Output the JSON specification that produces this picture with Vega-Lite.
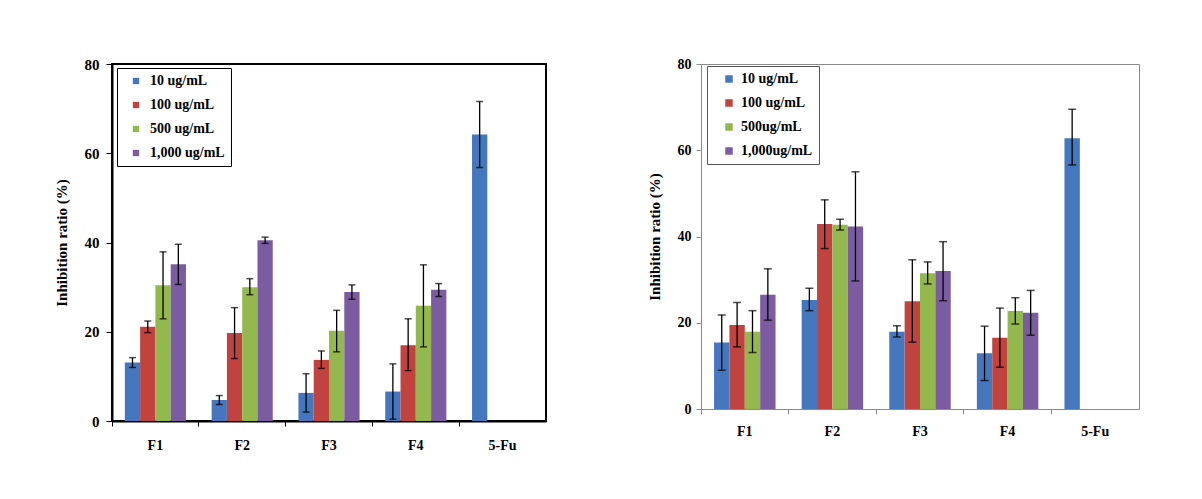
{
  "$schema": "https://vega.github.io/schema/vega-lite/v6.json",
  "background": "white",
  "padding": {"left": 53, "top": 56, "right": 0, "bottom": 0},
  "spacing": 99,
  "datasets": {
    "left": [
      {"group": "F1", "conc": "10 ug/mL", "value": 13.1, "lo": 12.0, "hi": 14.2},
      {"group": "F1", "conc": "100 ug/mL", "value": 21.1, "lo": 19.8, "hi": 22.4},
      {"group": "F1", "conc": "500 ug/mL", "value": 30.4, "lo": 22.9, "hi": 37.9},
      {"group": "F1", "conc": "1,000 ug/mL", "value": 35.1, "lo": 30.6, "hi": 39.6},
      {"group": "F2", "conc": "10 ug/mL", "value": 4.7, "lo": 3.7, "hi": 5.7},
      {"group": "F2", "conc": "100 ug/mL", "value": 19.7, "lo": 14.0, "hi": 25.4},
      {"group": "F2", "conc": "500 ug/mL", "value": 30.0, "lo": 28.3, "hi": 31.9},
      {"group": "F2", "conc": "1,000 ug/mL", "value": 40.5, "lo": 39.8, "hi": 41.2},
      {"group": "F3", "conc": "10 ug/mL", "value": 6.3, "lo": 2.0, "hi": 10.6},
      {"group": "F3", "conc": "100 ug/mL", "value": 13.7, "lo": 11.8, "hi": 15.7},
      {"group": "F3", "conc": "500 ug/mL", "value": 20.2, "lo": 15.5, "hi": 24.8},
      {"group": "F3", "conc": "1,000 ug/mL", "value": 28.9, "lo": 27.3, "hi": 30.5},
      {"group": "F4", "conc": "10 ug/mL", "value": 6.6, "lo": 0.4, "hi": 12.8},
      {"group": "F4", "conc": "100 ug/mL", "value": 17.0, "lo": 11.3, "hi": 22.9},
      {"group": "F4", "conc": "500 ug/mL", "value": 25.8, "lo": 16.6, "hi": 35.0},
      {"group": "F4", "conc": "1,000 ug/mL", "value": 29.4, "lo": 27.9, "hi": 30.8},
      {"group": "5-Fu", "conc": "10 ug/mL", "value": 64.2, "lo": 56.8, "hi": 71.6}
    ],
    "right": [
      {"group": "F1", "conc": "10 ug/mL", "value": 15.4, "lo": 9.0, "hi": 21.8},
      {"group": "F1", "conc": "100 ug/mL", "value": 19.5, "lo": 14.4, "hi": 24.7},
      {"group": "F1", "conc": "500ug/mL", "value": 17.9, "lo": 13.1, "hi": 22.8},
      {"group": "F1", "conc": "1,000ug/mL", "value": 26.5, "lo": 20.6, "hi": 32.5},
      {"group": "F2", "conc": "10 ug/mL", "value": 25.3, "lo": 22.8, "hi": 28.0},
      {"group": "F2", "conc": "100 ug/mL", "value": 42.9, "lo": 37.2, "hi": 48.5},
      {"group": "F2", "conc": "500ug/mL", "value": 42.7, "lo": 41.5, "hi": 44.0},
      {"group": "F2", "conc": "1,000ug/mL", "value": 42.3, "lo": 29.7, "hi": 55.0},
      {"group": "F3", "conc": "10 ug/mL", "value": 17.9, "lo": 16.7, "hi": 19.3},
      {"group": "F3", "conc": "100 ug/mL", "value": 25.0, "lo": 15.5, "hi": 34.6},
      {"group": "F3", "conc": "500ug/mL", "value": 31.5, "lo": 29.0, "hi": 34.1},
      {"group": "F3", "conc": "1,000ug/mL", "value": 32.0, "lo": 25.1, "hi": 38.8},
      {"group": "F4", "conc": "10 ug/mL", "value": 12.9, "lo": 6.6, "hi": 19.2},
      {"group": "F4", "conc": "100 ug/mL", "value": 16.5, "lo": 9.7, "hi": 23.4},
      {"group": "F4", "conc": "500ug/mL", "value": 22.7, "lo": 19.7, "hi": 25.8},
      {"group": "F4", "conc": "1,000ug/mL", "value": 22.3, "lo": 17.1, "hi": 27.5},
      {"group": "5-Fu", "conc": "10 ug/mL", "value": 62.8, "lo": 56.6, "hi": 69.5}
    ]
  },
  "hconcat": [
    {
      "width": 434,
      "height": 357,
      "view": {"stroke": "black", "strokeWidth": 2},
      "data": {"name": "left"},
      "encoding": {
        "x": {
          "field": "group", "type": "nominal",
          "sort": ["F1", "F2", "F3", "F4", "5-Fu"],
          "scale": {"paddingInner": 0, "paddingOuter": 0},
          "axis": {
            "title": null, "labelAngle": 0, "bandPosition": 0,
            "domainColor": "black", "domainWidth": 2,
            "tickColor": "black", "tickSize": 5, "tickWidth": 1,
            "labelFont": "Liberation Serif", "labelFontWeight": "bold", "labelFontSize": 14,
            "labelColor": "black", "labelPadding": 12
          }
        },
        "xOffset": {
          "field": "conc", "type": "nominal",
          "scale": {"domain": ["10 ug/mL", "100 ug/mL", "500 ug/mL", "1,000 ug/mL"], "paddingInner": 0, "paddingOuter": 0.84}
        }
      },
      "layer": [
        {
          "mark": {"type": "bar"},
          "encoding": {
            "y": {
              "field": "value", "type": "quantitative",
              "scale": {"domain": [0, 80], "nice": false},
              "axis": {
                "title": "Inhibition ratio (%)", "values": [0, 20, 40, 60, 80], "grid": false,
                "domainColor": "black", "domainWidth": 2,
                "tickColor": "black", "tickSize": 6, "tickWidth": 1,
                "labelFont": "Liberation Serif", "labelFontWeight": "bold", "labelFontSize": 15,
                "labelColor": "black", "labelPadding": 7,
                "titleFont": "Liberation Serif", "titleFontWeight": "bold", "titleFontSize": 15,
                "titleColor": "black", "titlePadding": 15
              }
            },
            "color": {
              "field": "conc", "type": "nominal",
              "scale": {"domain": ["10 ug/mL", "100 ug/mL", "500 ug/mL", "1,000 ug/mL"], "range": ["#4577BE", "#C0433F", "#93B84E", "#7B5CA0"]},
              "legend": {
                "orient": "none", "legendX": 5, "legendY": 4, "title": null,
                "strokeColor": "black", "fillColor": "white", "padding": 6,
                "symbolType": "square", "symbolSize": 40, "symbolStrokeWidth": 0, "symbolOffset": 6,
                "labelFont": "Liberation Serif", "labelFontWeight": "bold", "labelFontSize": 14,
                "labelColor": "black", "rowPadding": 10, "labelOffset": 7
              }
            }
          }
        },
        {
          "mark": {"type": "rule", "color": "black", "strokeWidth": 1.3},
          "encoding": {"y": {"field": "lo", "type": "quantitative"}, "y2": {"field": "hi"}}
        },
        {
          "mark": {"type": "tick", "color": "black", "thickness": 1.5, "size": 7},
          "encoding": {"y": {"field": "lo", "type": "quantitative"}}
        },
        {
          "mark": {"type": "tick", "color": "black", "thickness": 1.5, "size": 7},
          "encoding": {"y": {"field": "hi", "type": "quantitative"}}
        }
      ]
    },
    {
      "width": 438,
      "height": 345,
      "view": {"stroke": "#8a8a8a", "strokeWidth": 1},
      "data": {"name": "right"},
      "encoding": {
        "x": {
          "field": "group", "type": "nominal",
          "sort": ["F1", "F2", "F3", "F4", "5-Fu"],
          "scale": {"paddingInner": 0, "paddingOuter": 0},
          "axis": {
            "title": null, "labelAngle": 0, "bandPosition": 0,
            "domainColor": "#8a8a8a", "domainWidth": 1,
            "tickColor": "#8a8a8a", "tickSize": 5, "tickWidth": 1,
            "labelFont": "Liberation Serif", "labelFontWeight": "bold", "labelFontSize": 14,
            "labelColor": "black", "labelPadding": 10
          }
        },
        "xOffset": {
          "field": "conc", "type": "nominal",
          "scale": {"domain": ["10 ug/mL", "100 ug/mL", "500ug/mL", "1,000ug/mL"], "paddingInner": 0, "paddingOuter": 0.85}
        }
      },
      "layer": [
        {
          "mark": {"type": "bar"},
          "encoding": {
            "y": {
              "field": "value", "type": "quantitative",
              "scale": {"domain": [0, 80], "nice": false},
              "axis": {
                "title": "Inhibition ratio (%)", "values": [0, 20, 40, 60, 80], "grid": false,
                "domainColor": "#8a8a8a", "domainWidth": 1,
                "tickColor": "#8a8a8a", "tickSize": 5, "tickWidth": 1,
                "labelFont": "Liberation Serif", "labelFontWeight": "bold", "labelFontSize": 14,
                "labelColor": "black", "labelPadding": 5,
                "titleFont": "Liberation Serif", "titleFontWeight": "bold", "titleFontSize": 15,
                "titleColor": "black", "titlePadding": 15
              }
            },
            "color": {
              "field": "conc", "type": "nominal",
              "scale": {"domain": ["10 ug/mL", "100 ug/mL", "500ug/mL", "1,000ug/mL"], "range": ["#4577BE", "#C0433F", "#93B84E", "#7B5CA0"]},
              "legend": {
                "orient": "none", "legendX": 6, "legendY": 2, "title": null,
                "strokeColor": "#555555", "fillColor": "white", "padding": 6,
                "symbolType": "square", "symbolSize": 56, "symbolStrokeWidth": 0, "symbolOffset": 9,
                "labelFont": "Liberation Serif", "labelFontWeight": "bold", "labelFontSize": 14,
                "labelColor": "black", "rowPadding": 10, "labelOffset": 5
              }
            }
          }
        },
        {
          "mark": {"type": "rule", "color": "black", "strokeWidth": 1.3},
          "encoding": {"y": {"field": "lo", "type": "quantitative"}, "y2": {"field": "hi"}}
        },
        {
          "mark": {"type": "tick", "color": "black", "thickness": 1.5, "size": 8},
          "encoding": {"y": {"field": "lo", "type": "quantitative"}}
        },
        {
          "mark": {"type": "tick", "color": "black", "thickness": 1.5, "size": 8},
          "encoding": {"y": {"field": "hi", "type": "quantitative"}}
        }
      ]
    }
  ],
  "resolve": {"scale": {"color": "independent", "xOffset": "independent", "y": "independent", "x": "independent"}, "legend": {"color": "independent"}}
}
